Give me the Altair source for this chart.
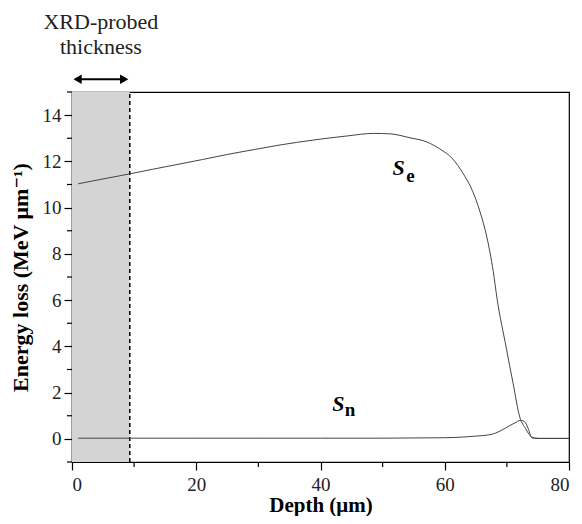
import altair as alt
import pandas as pd

# Electronic stopping S_e vs depth
se_depth = [1, 5, 9.3, 13, 17.4, 21, 25.4, 29.5, 33.5, 38.8, 44.3, 48.5, 51.2, 54.4, 57, 59.2,
            61.3, 62.9, 64.5, 65.7, 66.8, 67.8, 68.4, 69.9, 71.0, 72.1, 73.0, 74.0, 75, 80]
se_value = [11.03, 11.24, 11.46, 11.66, 11.89, 12.08, 12.32, 12.52, 12.71, 12.92, 13.10, 13.21, 13.19,
            13.02, 12.85, 12.54, 12.10, 11.50, 10.70, 9.80, 8.70, 7.25, 6.10, 3.94, 2.40, 0.92,
            0.45, 0.08, 0.02, 0.02]

# Nuclear stopping S_n vs depth
sn_depth = [1, 10, 20, 30, 40, 50, 55, 60, 63, 65, 67.3, 69, 70.5, 71.5, 72.1, 72.6, 73.0,
            73.5, 74.0, 75, 80]
sn_value = [0.03, 0.03, 0.03, 0.03, 0.03, 0.03, 0.04, 0.05, 0.08, 0.12, 0.18, 0.35, 0.58, 0.72,
            0.80, 0.78, 0.70, 0.40, 0.05, 0.02, 0.02]

xrd_thickness = 9.3
x_major = [0, 20, 40, 60, 80]
x_minor = [10, 30, 50, 70]
y_major = [0, 2, 4, 6, 8, 10, 12, 14]
y_minor = [-1, 1, 3, 5, 7, 9, 11, 13, 15]

se_df = pd.DataFrame({"depth": se_depth, "loss": se_value, "series": "Se"})
sn_df = pd.DataFrame({"depth": sn_depth, "loss": sn_value, "series": "Sn"})
curves = pd.concat([se_df, sn_df])

FONT = "Times New Roman, Liberation Serif, DejaVu Serif, serif"
W, H = 497, 370

xscale = alt.Scale(domain=[0, 80], nice=False, zero=False)
yscale = alt.Scale(domain=[-1, 15], nice=False, zero=False)

x_axis = alt.Axis(values=x_major, tickSize=8, title="Depth (\u03bcm)", grid=False)
y_axis = alt.Axis(values=y_major, tickSize=8, title="Energy loss (MeV \u03bcm\u207b\u00b9)", grid=False)

band_df = pd.DataFrame({"x": [0], "x2": [xrd_thickness], "y": [-1], "y2": [15]})
band = alt.Chart(band_df).mark_rect(color="#d4d4d4").encode(
    x=alt.X("x:Q", scale=xscale, axis=x_axis),
    x2="x2:Q",
    y=alt.Y("y:Q", scale=yscale, axis=y_axis),
    y2="y2:Q",
)

dash_df = pd.DataFrame({"x": [xrd_thickness], "y": [-1], "y2": [15]})
dash = alt.Chart(dash_df).mark_rule(color="black", strokeDash=[4, 3], strokeWidth=1.5).encode(
    x="x:Q", y="y:Q", y2="y2:Q"
)

lines = alt.Chart(curves).mark_line(color="#444444", strokeWidth=1, interpolate="monotone").encode(
    x="depth:Q", y="loss:Q", detail="series:N"
)

# Minor ticks (outside the plot frame)
xm_df = pd.DataFrame({"v": x_minor})
x_minor_ticks = alt.Chart(xm_df).mark_rule(color="black", strokeWidth=1.2, clip=False).encode(
    x="v:Q", y=alt.value(H), y2=alt.value(H + 5)
)
ym_df = pd.DataFrame({"v": y_minor})
y_minor_ticks = alt.Chart(ym_df).mark_rule(color="black", strokeWidth=1.2, clip=False).encode(
    y="v:Q", x=alt.value(-5), x2=alt.value(0)
)

# Arrow above the plot showing XRD-probed thickness
arrow_y = 15.55
arrow_df = pd.DataFrame({"x": [0.9], "x2": [xrd_thickness - 0.9], "y": [arrow_y]})
arrow_line = alt.Chart(arrow_df).mark_rule(color="black", strokeWidth=2, clip=False).encode(
    x="x:Q", x2="x2:Q", y="y:Q"
)
head_df = pd.DataFrame({"x": [0.9, xrd_thickness - 0.9], "y": [arrow_y, arrow_y],
                        "shape": ["triangle-left", "triangle-right"]})
heads = alt.Chart(head_df).mark_point(filled=True, color="black", size=90, opacity=1, clip=False).encode(
    x="x:Q", y="y:Q", shape=alt.Shape("shape:N", scale=None)
)

label_df = pd.DataFrame({"x": [xrd_thickness / 2], "y": [arrow_y],
                         "t": [["XRD-probed", "thickness"]]})
label = alt.Chart(label_df).mark_text(font=FONT, fontSize=22, color="#222222", lineHeight=25,
                                      baseline="bottom", dy=-45, clip=False).encode(
    x="x:Q", y="y:Q", text="t"
)

s_df = pd.DataFrame({"x": [41.9, 51.6], "y": [1.51, 11.71], "t": ["S", "S"]})
s_main = alt.Chart(s_df).mark_text(font=FONT, fontSize=22, fontStyle="italic", fontWeight="bold",
                                   color="black", align="left").encode(x="x:Q", y="y:Q", text="t:N")
sub_df = pd.DataFrame({"x": [43.9, 53.8], "y": [1.25, 11.36], "t": ["n", "e"]})
s_sub = alt.Chart(sub_df).mark_text(font=FONT, fontSize=19, fontWeight="bold",
                                    color="black", align="left").encode(x="x:Q", y="y:Q", text="t:N")

chart = alt.layer(band, dash, lines, x_minor_ticks, y_minor_ticks, arrow_line, heads, label,
                  s_main, s_sub).properties(
    width=W, height=H,
    autosize=alt.AutoSizeParams(type="none"),
    padding={"left": 64, "top": 84, "right": 5, "bottom": 54},
).configure_view(stroke="black", strokeWidth=1.2).configure_axis(
    domainColor="black", tickColor="black", domainWidth=1.2, tickWidth=1.2,
    labelFont=FONT, labelFontSize=19, labelColor="#222222",
    titleFont=FONT, titleFontWeight="bold", titleColor="black",
).configure_axisX(labelPadding=5, titlePadding=0, titleFontSize=21).configure_axisY(
    labelPadding=3, titlePadding=10, titleFontSize=22)

chart.save("out.html", embed_options={"renderer": "svg", "actions": False})
